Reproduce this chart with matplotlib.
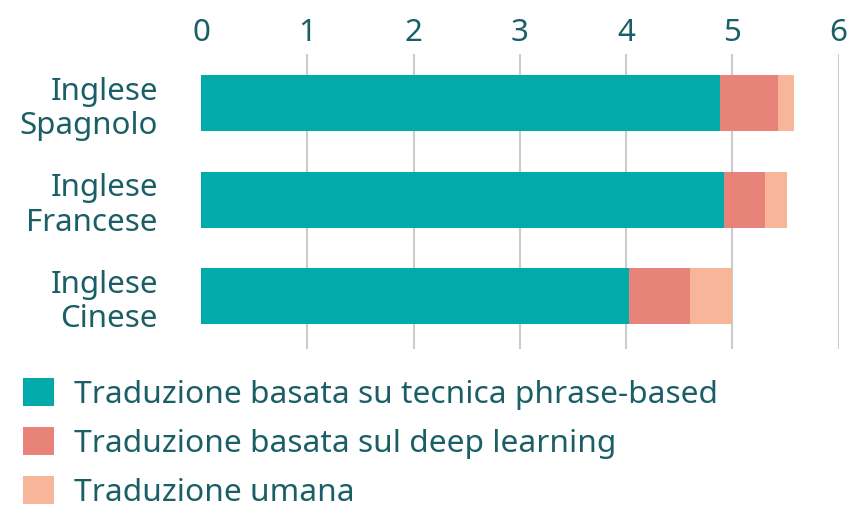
import matplotlib.pyplot as plt
import numpy as np

categories = ['Inglese\nSpagnolo', 'Inglese\nFrancese', 'Inglese\nCinese']
phrase_based = [4.88, 4.92, 4.03]
deep_learning = [0.55, 0.39, 0.57]
umana = [0.15, 0.20, 0.40]
series_names = ['Traduzione basata su tecnica phrase-based',
                'Traduzione basata sul deep learning',
                'Traduzione umana']
colors = ['#02aaaa', '#e8837a', '#f7b599']
text_col = '#1b5f66'

plt.rcParams['font.family'] = ['Noto Sans', 'DejaVu Sans']

fig = plt.figure(figsize=(8.48, 5.09), dpi=100)
ax = fig.add_axes([0.237, 0.314, 0.752, 0.580])

y = np.arange(len(categories))
left = np.zeros(len(categories))
handles = []
for vals, name, c in zip([phrase_based, deep_learning, umana], series_names, colors):
    b = ax.barh(y, vals, left=left, height=0.58, color=c, label=name, zorder=3)
    handles.append(b)
    left = left + np.array(vals)

ax.set_xlim(0, 6)
ax.set_ylim(2.55, -0.51)
ax.set_xticks(range(7))
ax.xaxis.tick_top()
ax.tick_params(axis='x', length=0, pad=4, labelsize=22.5, labelcolor=text_col)
ax.tick_params(axis='y', length=0, pad=31, labelsize=22.5, labelcolor=text_col)
ax.set_yticks(y)
ax.set_yticklabels(categories, linespacing=1.2)
for t in ax.get_yticklabels():
    t.set_horizontalalignment('right')

for x in range(1, 7):
    ax.axvline(x, color='#cccccc', lw=1.5, zorder=1)
for s in ax.spines.values():
    s.set_visible(False)

fig.legend(handles=handles, loc='upper left', bbox_to_anchor=(0.027, 0.258),
           frameon=False, fontsize=22.8, handlelength=0.98, handleheight=0.98,
           handletextpad=0.62, labelspacing=0.55, labelcolor=text_col,
           borderaxespad=0, borderpad=0)

fig.savefig('out.png', dpi=100)
